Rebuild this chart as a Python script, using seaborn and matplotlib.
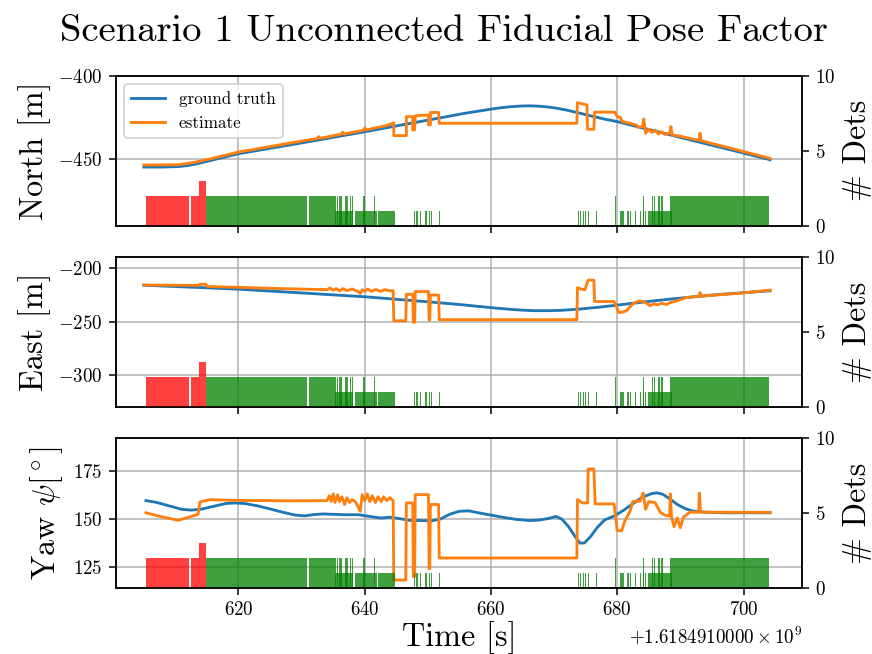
import numpy as np
import matplotlib
matplotlib.use("Agg")
import matplotlib.pyplot as plt
import matplotlib.ticker as mticker
import seaborn as sns

plt.rcParams.update({
    "font.family": "serif",
    "font.serif": ["cmr10"],
    "mathtext.fontset": "cm",
    "axes.formatter.use_mathtext": True,
    "axes.unicode_minus": True,
})

# ---------------------------------------------------------------- data
T0 = 1618491000.0  # epoch base of the log [s]

gt_north_t = [605.0, 608.0, 610.5, 612.0, 613.5, 615.0, 616.5, 618.0, 620.0, 630.0,
              640.0, 650.0, 656.0, 660.0, 661.5, 663.0, 664.5, 666.0, 667.5, 669.0,
              670.5, 672.0, 673.5, 675.0, 676.5, 678.0, 680.0, 690.0, 700.0, 704.2]
gt_north = [-454.8, -454.8, -454.5, -453.9, -452.8, -451.4, -450.0, -448.6, -446.8, -440.3,
            -433.6, -426.6, -422.4, -420.0, -419.2, -418.6, -418.2, -418.0, -418.2, -418.7,
            -419.5, -420.6, -421.9, -423.3, -424.7, -426.0, -427.5, -437.0, -446.4, -450.4]

est_north_t = [605.0, 610.5, 613.0, 616.0, 620.0, 625.0, 630.0, 632.5, 632.7, 632.9,
               635.0, 636.3, 636.5, 636.7, 638.0, 639.8, 640.0, 640.2, 642.0, 643.5,
               644.6, 644.6, 646.6, 646.6, 647.6, 647.6, 647.9, 648.0, 650.1, 650.1,
               650.4, 650.4, 651.7, 651.8, 673.6, 673.7, 675.2, 675.3, 676.3, 676.4,
               679.6, 680.0, 680.5, 680.8, 682.0, 683.0, 683.3, 684.0, 684.2, 684.5,
               685.0, 685.5, 686.0, 686.5, 687.0, 687.5, 688.3, 688.5, 688.7, 690.0,
               692.0, 693.0, 693.1, 693.3, 700.0, 704.2]
est_north = [-453.6, -453.4, -452.0, -449.5, -445.8, -442.5, -439.2, -437.7, -436.5, -437.5,
             -436.0, -435.0, -433.8, -435.0, -434.0, -432.7, -431.3, -432.5, -431.0, -429.9,
             -428.2, -435.9, -435.9, -424.5, -424.5, -432.5, -432.5, -424.0, -423.5, -429.5,
             -429.5, -422.0, -422.0, -428.5, -428.5, -416.1, -417.5, -432.1, -432.1, -421.8,
             -421.8, -424.5, -425.0, -427.5, -428.5, -429.5, -431.0, -430.5, -426.0, -434.5,
             -432.0, -434.0, -432.5, -435.0, -433.5, -435.2, -434.5, -430.5, -435.5, -436.3,
             -438.0, -438.7, -434.5, -439.0, -445.5, -449.6]

gt_east_t = [605.0, 614.0, 620.0, 630.0, 640.0, 650.0, 655.0, 658.0, 661.0, 663.0,
             665.0, 667.0, 669.0, 671.0, 674.0, 677.0, 680.0, 684.0, 688.0, 695.0, 704.2]
gt_east = [-215.8, -218.0, -219.5, -223.0, -226.6, -231.3, -233.8, -235.6, -237.3, -238.3,
           -239.1, -239.6, -239.6, -239.3, -238.1, -236.4, -234.4, -231.6, -229.0, -225.0, -221.0]

est_east_t = [605.0, 613.8, 613.9, 614.8, 615.1, 620.0, 627.0, 634.0, 634.5, 635.0,
              635.5, 636.0, 636.5, 637.2, 638.0, 639.0, 639.3, 639.6, 640.0, 640.5,
              641.0, 641.8, 642.5, 643.2, 644.0, 644.5, 644.6, 646.5, 646.6, 647.6,
              647.7, 647.9, 648.0, 650.1, 650.2, 650.3, 650.4, 651.7, 651.8, 673.6,
              673.7, 674.3, 674.9, 675.2, 675.4, 676.3, 676.4, 679.5, 679.9, 680.2,
              680.7, 681.5, 682.0, 682.6, 683.6, 684.5, 685.2, 685.8, 686.3, 687.0,
              687.8, 688.4, 689.4, 691.0, 693.0, 693.1, 693.3, 700.0, 704.2]
est_east = [-215.6, -216.0, -214.9, -214.9, -217.0, -217.8, -219.0, -220.0, -218.5, -220.5,
            -219.0, -221.0, -219.0, -220.8, -219.3, -222.0, -223.5, -220.0, -221.5, -219.3,
            -221.5, -219.8, -221.6, -220.0, -221.0, -220.8, -249.0, -249.0, -224.2, -224.2,
            -250.5, -250.5, -221.7, -221.7, -248.5, -248.5, -225.0, -225.0, -248.0, -248.0,
            -218.0, -219.5, -220.0, -214.0, -211.1, -211.1, -231.0, -231.0, -236.0, -241.2,
            -241.2, -239.5, -236.0, -232.5, -230.4, -232.0, -235.0, -233.0, -234.2, -232.8,
            -233.8, -232.0, -230.4, -227.3, -226.0, -222.6, -226.0, -223.0, -220.4]

gt_yaw_t = [605.35, 607.0, 609.0, 611.0, 612.5, 614.0, 616.0, 618.0, 619.5, 621.0,
            623.0, 625.0, 627.0, 629.0, 630.5, 632.0, 633.5, 635.0, 637.0, 639.0,
            641.0, 642.5, 644.0, 645.5, 647.0, 649.0, 650.5, 652.0, 653.5, 655.0,
            656.5, 658.0, 660.0, 662.0, 664.0, 666.0, 667.5, 669.0, 670.3, 671.2,
            672.3, 673.3, 674.1, 674.8, 675.8, 676.8, 678.0, 679.5, 681.0, 682.5,
            684.0, 685.5, 686.3, 687.2, 688.3, 689.5, 690.8, 692.0, 694.0, 697.0, 704.2]
gt_yaw = [159.5, 158.6, 156.8, 155.0, 154.6, 155.0, 156.5, 158.0, 158.3, 158.0,
          156.8, 155.2, 153.5, 152.0, 151.6, 152.3, 152.6, 152.4, 152.2, 152.2,
          151.2, 150.5, 150.9, 150.2, 149.3, 149.2, 149.0, 150.0, 152.5, 154.0,
          154.2, 153.2, 152.0, 150.8, 149.8, 149.2, 149.4, 150.2, 151.3, 150.0,
          146.0, 141.0, 137.5, 137.6, 141.0, 145.5, 149.5, 151.5, 154.5, 158.0,
          161.3, 163.2, 163.5, 162.8, 160.5, 157.5, 155.3, 154.1, 153.5, 153.2, 153.2]

est_yaw_t = [605.35, 608.0, 610.5, 613.6, 613.9, 615.5, 620.0, 628.0, 634.0, 634.4,
             634.7, 635.0, 635.3, 635.7, 636.0, 636.4, 636.8, 637.2, 637.6, 638.0,
             638.5, 639.3, 639.6, 640.0, 640.4, 640.8, 641.2, 641.7, 642.1, 642.6,
             643.0, 643.5, 644.0, 644.5, 644.6, 646.5, 646.6, 647.6, 647.7, 647.9,
             648.0, 650.1, 650.2, 650.3, 650.4, 651.7, 651.8, 673.6, 673.7, 674.5,
             675.3, 675.4, 676.3, 676.5, 679.5, 680.0, 680.7, 681.2, 682.0, 682.5,
             683.6, 684.1, 684.5, 685.0, 686.0, 686.8, 687.5, 688.3, 688.4, 688.6,
             689.0, 689.5, 690.0, 690.5, 691.5, 692.9, 693.0, 693.2, 704.2]
est_yaw = [153.2, 151.0, 149.3, 152.4, 158.8, 160.0, 159.6, 159.4, 159.5, 162.0,
           159.0, 163.0, 158.5, 162.5, 159.0, 161.5, 157.5, 161.0, 158.5, 160.0,
           159.0, 154.0, 162.6, 159.5, 163.0, 159.0, 162.0, 158.5, 161.5, 159.0,
           161.5, 159.5, 161.0, 159.5, 118.4, 118.4, 158.3, 158.3, 120.1, 120.1,
           162.6, 162.6, 124.3, 124.3, 157.5, 157.5, 129.8, 129.8, 160.1, 158.3,
           158.3, 175.9, 175.9, 157.8, 157.8, 143.9, 143.9, 149.0, 153.8, 159.2,
           159.2, 163.4, 155.0, 159.0, 158.5, 153.5, 152.0, 151.5, 163.0, 151.0,
           146.0, 150.5, 145.5, 151.0, 153.5, 153.5, 163.4, 153.5, 153.4]

# fiducial detections: continuous blocks and isolated frames
det_block_start = [605.35, 612.48, 613.80, 614.86, 631.12, 635.29, 638.46, 638.84, 639.30, 642.08, 684.90, 688.60]
det_block_end = [612.22, 613.80, 614.86, 630.91, 635.29, 638.20, 638.72, 639.20, 641.95, 644.80, 688.60, 704.10]
det_block_count = [2, 2, 3, 2, 2, 1, 1, 1, 1, 1, 1, 2]
det_block_unconnected = [True, True, True, False, False, False, False, False, False, False, False, False]

det_frame_t = [635.3, 635.6, 636.0, 636.2, 636.9, 637.1, 637.6, 638.0, 639.8, 641.5,
               647.8, 648.2, 648.7, 649.6, 650.2, 650.5, 651.8, 673.8, 674.1, 674.5,
               674.9, 675.3, 676.6, 679.65, 680.5, 680.8, 681.6, 682.0, 682.8, 683.6,
               684.0, 684.1, 684.4, 685.5, 685.8, 686.5, 687.0, 688.4]
det_frame_count = [2, 2, 2, 2, 2, 2, 2, 2, 2, 2,
                   1, 1, 1, 1, 1, 1, 1, 1, 1, 1,
                   1, 1, 1, 2, 1, 1, 1, 1, 1, 1,
                   1, 2, 1, 2, 2, 2, 2, 2]

panels = [
    ("North [m]", gt_north_t, gt_north, est_north_t, est_north, [-450, -400], (-490, -400)),
    ("East [m]", gt_east_t, gt_east, est_east_t, est_east, [-300, -250, -200], (-329.3, -189.5)),
    (r"Yaw $\psi[^\circ]$", gt_yaw_t, gt_yaw, est_yaw_t, est_yaw, [125, 150, 175], (114.3, 191.8)),
]
dets_ticks = [0, 5, 10]


class EpochFormatter(mticker.ScalarFormatter):
    """Scalar formatter that writes the offset with a fixed ten-digit mantissa."""

    def get_offset(self):
        if not self.offset:
            return ""
        mant, exp = f"{self.offset:.10e}".split("e")
        return rf"$+{mant}\times10^{{{int(exp)}}}$"


# ---------------------------------------------------------------- figure
fig, axes = plt.subplots(3, 1, sharex=True, figsize=(6.4, 4.8), dpi=136.25)
fig.subplots_adjust(left=0.133, right=0.920, top=0.884, bottom=0.101, hspace=0.21)

blue, orange = "#1f77b4", "#ff7f0e"

for ax, (ylab, gt_t, gt_v, es_t, es_v, yt, ylim) in zip(axes, panels):
    ax.grid(True, color="#b0b0b0", lw=0.8)
    ax.set_axisbelow(True)
    sns.lineplot(x=T0 + np.asarray(gt_t), y=gt_v, ax=ax, color=blue, lw=1.5,
                 sort=False, estimator=None, label="ground truth")
    sns.lineplot(x=T0 + np.asarray(es_t), y=es_v, ax=ax, color=orange, lw=1.5,
                 sort=False, estimator=None, label="estimate")
    ax.set_yticks(yt)
    ax.set_ylim(*ylim)
    ax.set_ylabel(ylab, fontsize=17)
    ax.tick_params(labelsize=10)
    leg = ax.get_legend()
    if leg is not None:
        leg.remove()

    ax2 = ax.twinx()
    for s, e, c, unc in zip(det_block_start, det_block_end, det_block_count, det_block_unconnected):
        ax2.bar(T0 + s, c, width=e - s, align="edge", color="red" if unc else "green",
                alpha=0.75, linewidth=0)
    ax2.bar(T0 + np.asarray(det_frame_t), det_frame_count, width=0.2, align="edge",
            color="green", alpha=0.75, linewidth=0)
    ax2.set_ylim(0, 10)
    ax2.set_yticks(dets_ticks)
    ax2.set_ylabel("# Dets", fontsize=17)
    ax2.tick_params(labelsize=10)

axes[0].legend(loc="upper left", fontsize=9)

axes[-1].set_xlim(T0 + 600.6, T0 + 709.3)
axes[-1].xaxis.set_major_locator(mticker.MultipleLocator(20))
axes[-1].xaxis.set_major_formatter(EpochFormatter(useMathText=True))
axes[-1].set_xlabel("Time [s]", fontsize=17, labelpad=1.0)

fig.suptitle("Scenario 1 Unconnected Fiducial Pose Factor", fontsize=20.4, x=0.509, y=0.977)

fig.savefig("out.png", dpi=136.25)
